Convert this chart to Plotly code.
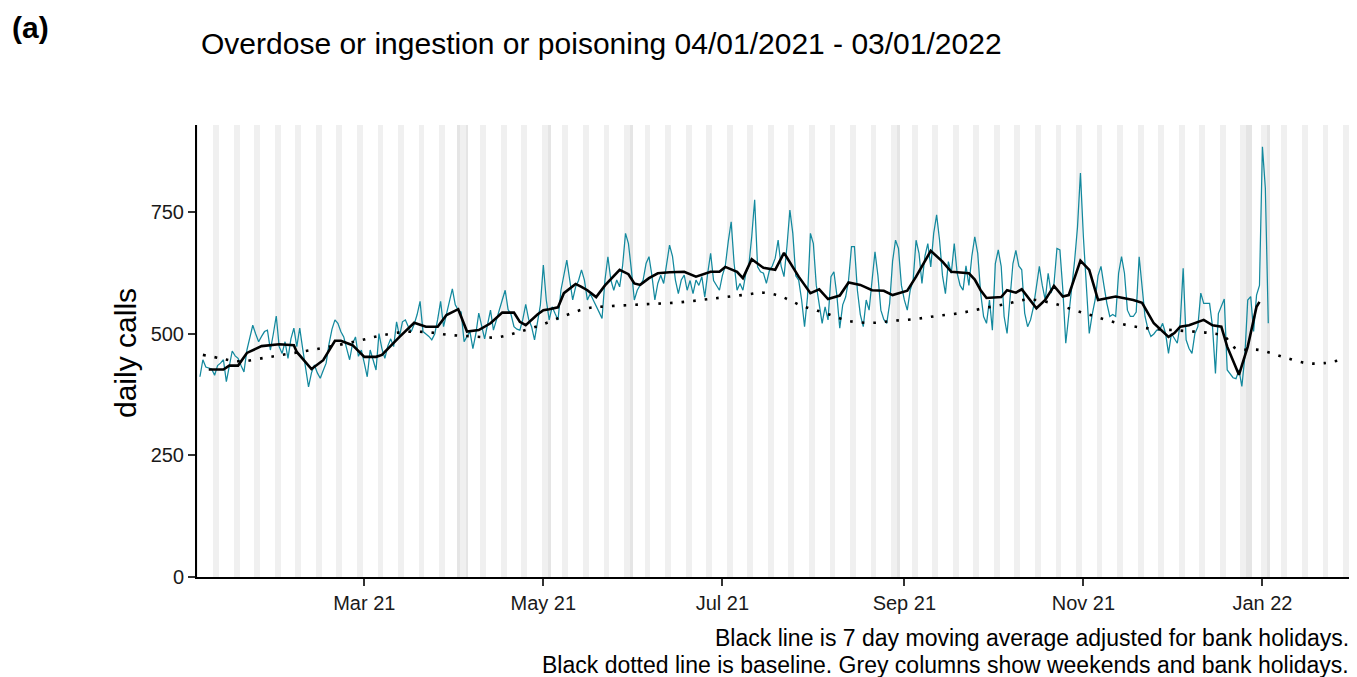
import pandas as pd
import plotly.graph_objects as go

# ---------------- data ----------------
start_date = "2021-01-04"

daily_calls = [
    412, 447, 432, 430, 428, 415, 435,   # Jan 4
    440, 447, 402, 430, 465, 455, 450,   # Jan 11
    435, 422, 467, 490, 518, 500, 484,   # Jan 18
    495, 505, 508, 467, 500, 537, 474,   # Jan 25
    460, 484, 450, 490, 512, 474, 512,   # Feb 1
    470, 433, 391, 420, 436, 420, 409,   # Feb 8
    425, 440, 480, 510, 529, 522, 505,   # Feb 15
    494, 470, 447, 480, 494, 454, 467,   # Feb 22
    440, 412, 467, 445, 426, 501, 470,   # Mar 1
    450, 475, 490, 474, 525, 495, 525,   # Mar 8
    529, 515, 505, 520, 540, 567, 505,   # Mar 15
    500, 495, 488, 500, 530, 567, 515,   # Mar 22
    540, 570, 593, 560, 549, 545, 484,   # Mar 29
    495, 505, 470, 500, 543, 515, 490,   # Apr 5
    520, 549, 508, 530, 550, 570, 590,   # Apr 12
    550, 540, 515, 510, 508, 530, 561,   # Apr 19
    530, 515, 488, 520, 560, 642, 570,   # Apr 26
    529, 556, 542, 529, 590, 620, 652,   # May 3
    611, 570, 597, 610, 632, 611, 570,   # May 10
    583, 570, 556, 545, 532, 611, 659,   # May 17
    611, 590, 611, 597, 640, 707, 686,   # May 24
    632, 570, 590, 600, 611, 645, 659,   # May 31
    620, 570, 604, 621, 604, 640, 683,   # Jun 7
    660, 611, 583, 611, 621, 590, 610,   # Jun 14
    583, 611, 600, 618, 576, 625, 666,   # Jun 21
    610, 600, 590, 620, 640, 690, 731,   # Jun 28
    645, 590, 604, 590, 625, 640, 700,   # Jul 5
    776, 638, 628, 625, 604, 630, 640,   # Jul 12
    656, 693, 640, 618, 680, 755, 707,   # Jul 19
    620, 611, 570, 515, 576, 707, 686,   # Jul 26
    600, 556, 522, 556, 529, 618, 628,   # Aug 2
    580, 512, 560, 576, 611, 680, 680,   # Aug 9
    590, 540, 515, 570, 549, 610, 669,   # Aug 16
    620, 549, 530, 522, 563, 650, 693,   # Aug 23
    676, 600, 570, 549, 590, 611, 693,   # Aug 30
    666, 604, 660, 686, 638, 707, 745,   # Sep 6
    693, 620, 583, 649, 625, 686, 625,   # Sep 13
    600, 590, 640, 600, 660, 700, 666,   # Sep 20
    584, 536, 522, 570, 508, 645, 673,   # Sep 27
    639, 536, 501, 577, 645, 672, 640,   # Oct 4
    632, 543, 515, 529, 556, 598, 639,   # Oct 11
    600, 570, 625, 584, 604, 676, 673,   # Oct 18
    591, 481, 536, 584, 650, 720, 831,   # Oct 25
    700, 600, 501, 540, 570, 620, 639,   # Nov 1
    600, 563, 536, 540, 536, 625, 659,   # Nov 8
    625, 549, 536, 536, 545, 659, 598,   # Nov 15
    536, 510, 495, 500, 508, 508, 522,   # Nov 22
    501, 460, 501, 491, 481, 522, 635,   # Nov 29
    488, 470, 460, 501, 515, 584, 563,   # Dec 6
    563, 563, 515, 419, 542, 556, 572,   # Dec 13
    426, 419, 410, 408, 426, 392, 453,   # Dec 20
    570, 577, 505, 580, 600, 885, 800,   # Dec 27
    522,                                 # Jan 3 2022
]

ma_dates = [
    "2021-01-07", "2021-01-12", "2021-01-14", "2021-01-17", "2021-01-20", "2021-01-25",
    "2021-01-31", "2021-02-05", "2021-02-06", "2021-02-11", "2021-02-15", "2021-02-19",
    "2021-02-21", "2021-02-25", "2021-03-01", "2021-03-05", "2021-03-07", "2021-03-09",
    "2021-03-11", "2021-03-13", "2021-03-18", "2021-03-22", "2021-03-26", "2021-03-29",
    "2021-04-02", "2021-04-05", "2021-04-09", "2021-04-13", "2021-04-17", "2021-04-21",
    "2021-04-23", "2021-04-25", "2021-04-29", "2021-05-01", "2021-05-03", "2021-05-06",
    "2021-05-08", "2021-05-12", "2021-05-14", "2021-05-16", "2021-05-19", "2021-05-22",
    "2021-05-27", "2021-05-30", "2021-06-01", "2021-06-03", "2021-06-06", "2021-06-09",
    "2021-06-13", "2021-06-18", "2021-06-22", "2021-06-27", "2021-06-30", "2021-07-02",
    "2021-07-06", "2021-07-08", "2021-07-11", "2021-07-15", "2021-07-19", "2021-07-22",
    "2021-07-27", "2021-07-31", "2021-08-03", "2021-08-06", "2021-08-10", "2021-08-13",
    "2021-08-17", "2021-08-21", "2021-08-25", "2021-08-28", "2021-09-02", "2021-09-05",
    "2021-09-10", "2021-09-14", "2021-09-17", "2021-09-21", "2021-09-23", "2021-09-25",
    "2021-09-27", "2021-09-29", "2021-10-02", "2021-10-04", "2021-10-06", "2021-10-09",
    "2021-10-11", "2021-10-16", "2021-10-19", "2021-10-22", "2021-10-25", "2021-10-27",
    "2021-10-31", "2021-11-03", "2021-11-06", "2021-11-12", "2021-11-18", "2021-11-21",
    "2021-11-25", "2021-11-30", "2021-12-02", "2021-12-04", "2021-12-07", "2021-12-12",
    "2021-12-15", "2021-12-18", "2021-12-20", "2021-12-24", "2021-12-27", "2021-12-30",
    "2021-12-31",
]
ma_values = [
    427, 427, 435, 435, 461, 475,
    479, 477, 463, 428, 446, 486,
    486, 477, 453, 453, 457, 470,
    481, 494, 523, 515, 515, 539,
    551, 505, 508, 522, 544, 544,
    525, 518, 540, 549, 551, 555,
    584, 603, 597, 590, 576, 600,
    632, 623, 604, 601, 615, 625,
    627, 628, 618, 628, 628, 638,
    628, 615, 654, 636, 632, 667,
    618, 584, 592, 572, 579, 606,
    601, 590, 589, 580, 589, 618,
    671, 649, 628, 625, 625, 612,
    590, 574, 576, 576, 590, 585,
    592, 553, 570, 599, 577, 580,
    651, 632, 570, 577, 570, 564,
    522, 494, 502, 515, 518, 529,
    518, 515, 474, 416, 474, 556,
    566,
]

baseline_dates = [
    "2021-01-05", "2021-01-11", "2021-01-15", "2021-01-19", "2021-01-26", "2021-02-03",
    "2021-02-11", "2021-02-19", "2021-02-27", "2021-03-06", "2021-03-14", "2021-03-22",
    "2021-03-30", "2021-04-07", "2021-04-15", "2021-04-22", "2021-04-30", "2021-05-08",
    "2021-05-16", "2021-05-23", "2021-06-04", "2021-06-16", "2021-06-28", "2021-07-09",
    "2021-07-15", "2021-07-21", "2021-07-28", "2021-08-05", "2021-08-13", "2021-08-21",
    "2021-08-28", "2021-09-05", "2021-09-12", "2021-09-20", "2021-09-28", "2021-10-06",
    "2021-10-13", "2021-10-21", "2021-10-29", "2021-11-05", "2021-11-13", "2021-11-21",
    "2021-11-29", "2021-12-06", "2021-12-14", "2021-12-19", "2021-12-23", "2021-12-31",
    "2022-01-08", "2022-01-16", "2022-01-22", "2022-01-28",
]
baseline_values = [
    457, 450, 445, 444, 451, 459,
    467, 476, 486, 496, 504, 504,
    498, 495, 493, 503, 518, 537,
    553, 557, 561, 565, 573, 581,
    585, 577, 558, 543, 527, 523,
    527, 531, 537, 543, 553, 562,
    571, 564, 549, 536, 522, 513,
    509, 506, 502, 495, 470, 467,
    453, 440, 440, 447,
]

bank_holidays = ["2021-04-02", "2021-04-05", "2021-05-03", "2021-05-31",
                 "2021-08-30", "2021-12-27", "2021-12-28", "2022-01-03"]

x_range = ["2021-01-03", "2022-01-30 12:00"]
y_top = 930
y_ticks = [0, 250, 500, 750]

title_text = "Overdose or ingestion or poisoning 04/01/2021 - 03/01/2022"
panel_label = "(a)"
y_title = "daily calls"
caption_1 = "Black line is 7 day moving average adjusted for bank holidays."
caption_2 = "Black dotted line is baseline. Grey columns show weekends and bank holidays."

# ---------------- derived ----------------
dates = pd.date_range(start_date, periods=len(daily_calls), freq="D")
calendar = pd.date_range("2021-01-03", "2022-01-30", freq="D")
weekend_days = calendar[calendar.dayofweek >= 5]
bh_days = pd.to_datetime(bank_holidays)
DAY_MS = 86400000

FONT = "Liberation Sans, Arial, sans-serif"
TEAL = "#13899e"

fig = go.Figure()
fig.add_trace(go.Bar(x=weekend_days, y=[y_top] * len(weekend_days), width=DAY_MS,
                     marker=dict(color="#f0f0f0", line=dict(width=0)), hoverinfo="skip"))
fig.add_trace(go.Bar(x=bh_days, y=[y_top] * len(bh_days), width=DAY_MS,
                     marker=dict(color="#e5e5e5", line=dict(width=0)), hoverinfo="skip"))
fig.add_trace(go.Scatter(x=dates, y=daily_calls, mode="lines",
                         line=dict(color=TEAL, width=1.25)))
fig.add_trace(go.Scatter(x=pd.to_datetime(baseline_dates), y=baseline_values, mode="lines",
                         line=dict(color="black", width=2.6, dash="2.6px,9px", shape="spline")))
fig.add_trace(go.Scatter(x=pd.to_datetime(ma_dates), y=ma_values, mode="lines",
                         line=dict(color="black", width=2.6)))

L, R, T, B = 197, 8, 125, 100
W, H = 1357, 677
pw, ph = W - L - R, H - T - B


def px(x):
    return (x - L) / pw


def py(y):
    return (H - B - y) / ph


fig.update_layout(
    width=W, height=H, autosize=False,
    margin=dict(l=L, r=R, t=T, b=B, pad=0),
    plot_bgcolor="white", paper_bgcolor="white",
    showlegend=False, barmode="overlay", bargap=0,
    font=dict(family=FONT, color="#1a1a1a"),
    xaxis=dict(type="date", range=x_range, showgrid=False, zeroline=False,
               showline=True, linecolor="black", linewidth=2,
               ticks="outside", ticklen=7, tickwidth=2, tickcolor="#333333",
               tickformat="%b %y", dtick="M2", tick0="2021-01-01",
               tickfont=dict(size=20, family=FONT, color="#1a1a1a")),
    yaxis=dict(range=[0, y_top], showgrid=False, zeroline=False,
               showline=True, linecolor="black", linewidth=2,
               ticks="outside", ticklen=7, tickwidth=2, tickcolor="#333333",
               tickvals=y_ticks, ticktext=[str(v) for v in y_ticks],
               tickfont=dict(size=20, family=FONT, color="#1a1a1a")),
    annotations=[
        dict(text="<b>" + panel_label + "</b>", xref="paper", yref="paper",
             x=px(10), y=py(27), xanchor="left", yanchor="middle", showarrow=False,
             font=dict(size=30, family=FONT, color="black")),
        dict(text=title_text, xref="paper", yref="paper",
             x=px(199), y=py(43), xanchor="left", yanchor="middle", showarrow=False,
             font=dict(size=30, family=FONT, color="black")),
        dict(text=y_title, xref="paper", yref="paper", textangle=-90,
             x=px(125), y=py(353), xanchor="center", yanchor="middle", showarrow=False,
             font=dict(size=30, family=FONT, color="black")),
        dict(text=caption_1, xref="paper", yref="paper",
             x=px(1351), y=py(638), xanchor="right", yanchor="middle", showarrow=False,
             font=dict(size=23, family=FONT, color="black")),
        dict(text=caption_2, xref="paper", yref="paper",
             x=px(1351), y=py(665), xanchor="right", yanchor="middle", showarrow=False,
             font=dict(size=23, family=FONT, color="black")),
    ],
)

fig.write_html("out.html", config={"displayModeBar": False},
               post_script="document.body.style.margin='0';document.body.style.overflow='hidden';")
